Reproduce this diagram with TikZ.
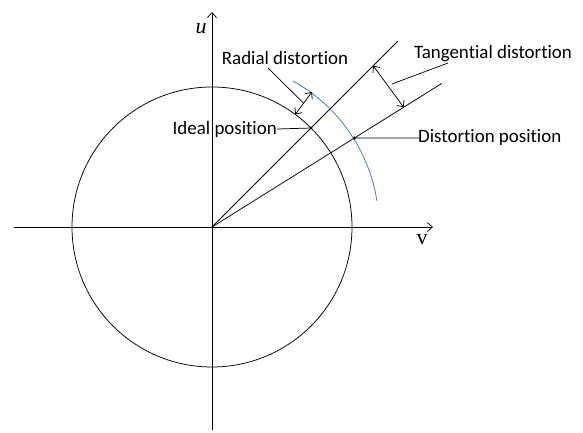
\documentclass[tikz,border=0pt]{standalone}
\usepackage{fontspec}
\setmainfont{Carlito}[Ligatures=NoCommon]
\newfontfamily\axisfont{Liberation Serif}
\usetikzlibrary{arrows.meta,positioning,calc}
\definecolor{ARC-BLUE}{RGB}{68, 114, 196}
\tikzset{
  line/.style={line width=0.75pt},
  label text/.style={font=\fontsize{19}{22}\selectfont, inner sep=0pt},
  axis text/.style={font=\fontsize{22}{24}\selectfont\axisfont, inner sep=0pt},
  tip/.style={-{Straight Barb[length=5pt,width=9pt]}},
  both tips/.style={{Straight Barb[length=5pt,width=9pt]}-{Straight Barb[length=5pt,width=9pt]}},
}

\begin{document}
\begin{tikzpicture}[x=1bp, y=1bp]
  \useasboundingbox (-212,-205) rectangle (371,227);

  % Axes
  \coordinate (O) at (0,0);
  \coordinate (xl) at (-198,0);
  \coordinate (xr) at (221,0);
  \coordinate (yb) at (0,-203);
  \coordinate (yt) at (0,215);
  \draw[line, tip] (xl) -- (xr);
  \draw[line, tip] (yb) -- (yt);
  \node[axis text] (ulabel) at (-11,198) {\itshape u};
  \node[axis text] (vlabel) at (210,-13) {v};

  % Ideal circle
  \draw[line] (O) circle (140);

  % Distorted arc (blue)
  \draw[line, ARC-BLUE] (9:167) arc[start angle=9, end angle=61, radius=167];

  % Rays through the two positions
  \coordinate (r1) at (45:263);
  \coordinate (r2) at (32:271);
  \draw[line] (O) -- (r1);
  \draw[line] (O) -- (r2);

  % Ideal and distortion points
  \coordinate (pi) at (45:140);
  \coordinate (pd) at (32:168);
  \fill (pi) circle (1.6);
  \fill (pd) circle (1.6);

  % Radial distortion
  \coordinate (ra) at (53.5:140);
  \coordinate (rb) at (53.5:168);
  \coordinate (rm) at (53.5:154);
  \draw[line, both tips] (ra) -- (rb);
  \node[label text] (radial) at (73,169) {Radial distortion};
  \coordinate (rlead) at (56,159);
  \draw[line] (rlead) -- (rm);

  % Tangential distortion
  \coordinate (ta) at (45:228);
  \coordinate (tb) at (32:226);
  \coordinate (tm) at (180,143);
  \draw[line, both tips] (ta) -- (tb);
  \node[label text] (tangential) at (281,173) {Tangential distortion};
  \coordinate (tlead) at (236,164);
  \draw[line] (tm) -- (tlead);

  % Position labels
  \node[label text, anchor=east] (ideal) at (65,98) {Ideal position};
  \draw[line] (ideal.east) -- (pi);
  \node[label text, anchor=west] (distortion) at (206,89) {Distortion position};
  \draw[line] (pd) -- ($(distortion.west)+(3,0)$);
\end{tikzpicture}
\end{document}
